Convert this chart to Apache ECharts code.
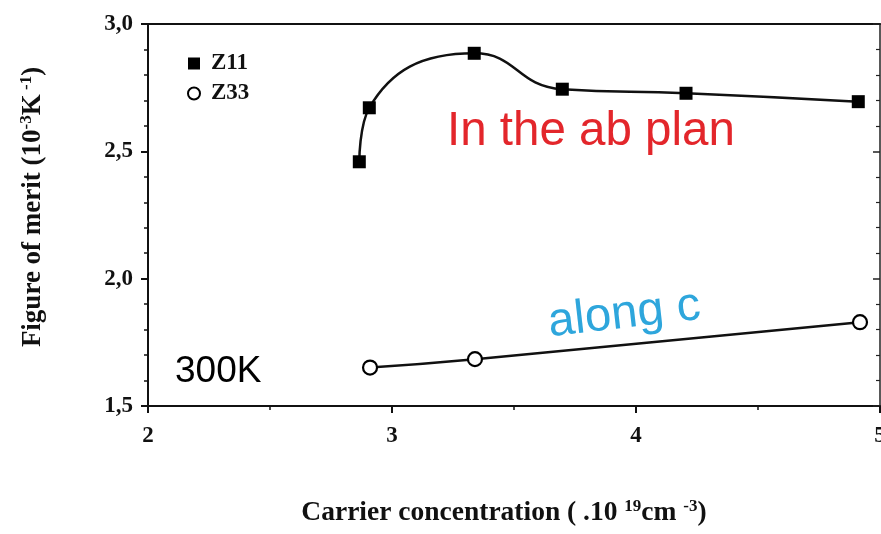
<!DOCTYPE html>
<html>
<head>
<meta charset="utf-8">
<script src="https://cdn.jsdelivr.net/npm/echarts@6/dist/echarts.min.js"></script>
<style>
html,body{margin:0;padding:0;background:#fff;}
#chart{width:881px;height:534px;}
</style>
</head>
<body>
<div id="chart"></div>
<script>
// Data
const z11X = [2.866, 2.907, 3.337, 3.698, 4.205, 4.911];
const z11Y = [2.459, 2.671, 2.885, 2.744, 2.728, 2.695];
const z33X = [2.91, 3.34, 4.918];
const z33Y = [1.651, 1.684, 1.829];
const xTicks = [2, 3, 4, 5];
const yTicks = [1.5, 2.0, 2.5, 3.0];
const seriesNames = ['Z11', 'Z33'];

const serif = '"Liberation Serif", "DejaVu Serif", serif';
const sans = '"Liberation Sans", Arial, sans-serif';

const chart = echarts.init(document.getElementById('chart'), null, {renderer: 'canvas'});

const option = {
  backgroundColor: '#fff',
  animation: false,
  grid: {left: 148, right: 1, top: 24, bottom: 128, containLabel: false, outerBoundsMode: 'none'},
  legend: {
    orient: 'vertical',
    left: 182,
    top: 47,
    itemGap: 7,
    itemWidth: 12,
    itemHeight: 12,
    textStyle: {fontFamily: serif, fontWeight: 'bold', fontSize: 23, color: '#111', padding: [0, 0, 0, 6]},
    data: [
      {name: seriesNames[0], icon: 'rect', itemStyle: {color: '#000', borderWidth: 0}},
      {name: seriesNames[1], icon: 'circle', itemStyle: {color: '#fff', borderColor: '#000', borderWidth: 2}}
    ]
  },
  xAxis: [{
    type: 'value', min: xTicks[0], max: xTicks[xTicks.length - 1], interval: 1,
    position: 'bottom',
    axisLine: {show: true, onZero: false, lineStyle: {color: '#111', width: 2}},
    axisTick: {show: true, inside: false, length: 7, lineStyle: {color: '#111', width: 2}},
    minorTick: {show: true, splitNumber: 2, length: 4, lineStyle: {color: '#111', width: 1.5}},
    splitLine: {show: false},
    axisLabel: {fontFamily: serif, fontWeight: 'bold', fontSize: 23, color: '#111', margin: 19,
      formatter: v => String(v)},
    name: 'Carrier concentration ( .10 {sup|19}cm {sup|-3})',
    nameLocation: 'middle',
    nameGap: 92,
    nameTextStyle: {fontFamily: serif, fontWeight: 'bold', fontSize: 27.5, color: '#111', lineHeight: 30,
      padding: [0, 20, 0, 0],
      rich: {sup: {fontFamily: serif, fontWeight: 'bold', fontSize: 17, verticalAlign: 'top', lineHeight: 30, color: '#111'}}}
  }, {
    type: 'value', min: xTicks[0], max: xTicks[xTicks.length - 1], interval: 1,
    position: 'top',
    axisLine: {show: true, onZero: false, lineStyle: {color: '#111', width: 2}},
    axisTick: {show: false}, axisLabel: {show: false}, splitLine: {show: false}
  }],
  yAxis: [{
    type: 'value', min: yTicks[0], max: yTicks[yTicks.length - 1], interval: 0.5,
    position: 'left',
    axisLine: {show: true, onZero: false, lineStyle: {color: '#111', width: 2}},
    axisTick: {show: true, inside: false, length: 7, lineStyle: {color: '#111', width: 2}},
    minorTick: {show: true, splitNumber: 5, length: 4, lineStyle: {color: '#111', width: 1.5}},
    splitLine: {show: false},
    axisLabel: {fontFamily: serif, fontWeight: 'bold', fontSize: 23, color: '#111', margin: 15,
      formatter: v => v.toFixed(1).replace('.', ',')},
    name: 'Figure of merit (10{sup|-3}K{sup| -1})',
    nameLocation: 'middle',
    nameGap: 100,
    nameTextStyle: {fontFamily: serif, fontWeight: 'bold', fontSize: 27, color: '#111', lineHeight: 30,
      padding: [0, 0, 0, 16],
      rich: {sup: {fontFamily: serif, fontWeight: 'bold', fontSize: 17, verticalAlign: 'top', lineHeight: 30, color: '#111'}}}
  }, {
    type: 'value', min: yTicks[0], max: yTicks[yTicks.length - 1], interval: 0.5,
    position: 'right',
    axisLine: {show: true, onZero: false, lineStyle: {color: '#222', width: 1.5}},
    axisTick: {show: true, inside: true, length: 7, lineStyle: {color: '#222', width: 1.5}},
    minorTick: {show: true, splitNumber: 5, length: 4, lineStyle: {color: '#222', width: 1.2}},
    axisLabel: {show: false}, splitLine: {show: false}
  }],
  series: [{
    name: seriesNames[0], type: 'line',
    data: z11X.map((x, i) => [x, z11Y[i]]),
    smooth: 0.5,
    symbol: 'rect', symbolSize: 13,
    itemStyle: {color: '#000'},
    lineStyle: {color: '#111', width: 2.5},
    z: 3
  }, {
    name: seriesNames[1], type: 'line',
    data: z33X.map((x, i) => [x, z33Y[i]]),
    smooth: 0.5,
    symbol: 'circle', symbolSize: 14,
    itemStyle: {color: '#fff', borderColor: '#000', borderWidth: 2.2},
    lineStyle: {color: '#111', width: 2.5},
    z: 3
  }],
  graphic: [
    {type: 'text', left: 447, top: 108, style: {text: 'In the ab plan', fill: '#e3262b', font: '47.5px ' + sans}},
    {type: 'text', x: 551, y: 347, rotation: 6.5 * Math.PI / 180, style: {text: 'along c', fill: '#2ea6dc', font: '47.5px ' + sans, textVerticalAlign: 'bottom'}},
    {type: 'text', left: 175, top: 353, style: {text: '300K', fill: '#000', font: '37px ' + sans}}
  ]
};
chart.setOption(option);
</script>
</body>
</html>
